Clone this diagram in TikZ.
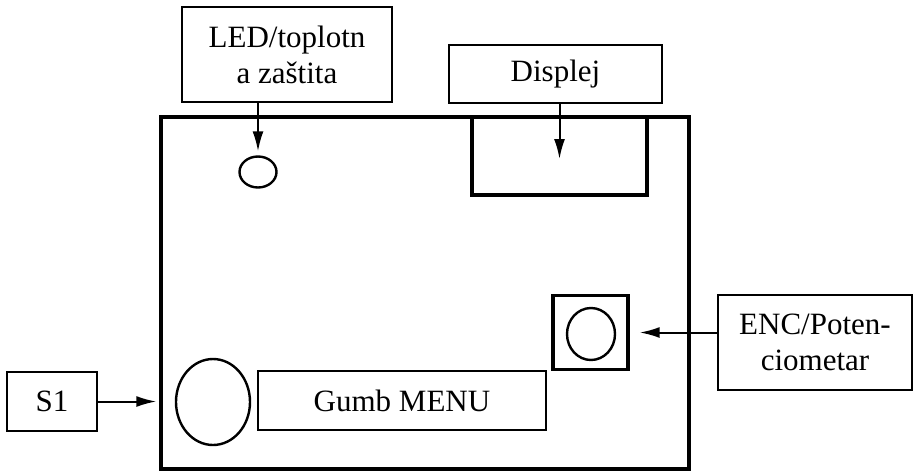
\documentclass[tikz,border=0pt]{standalone}
\usepackage{fontspec}
\setmainfont{Liberation Serif}
\usetikzlibrary{shapes.geometric,arrows.meta}
\begin{document}
\begin{tikzpicture}[x=1pt,y=-1pt,
  lbl/.style={draw,line width=1.6pt,rectangle,inner sep=0pt,align=center,font=\fontsize{31}{36}\selectfont},
  thick box/.style={draw,line width=3.4pt,rectangle,inner sep=0pt},
  oval/.style={draw,line width=2.4pt,ellipse,inner sep=0pt},
  arr/.style={line width=2pt,-{Latex[length=20pt,width=11pt]}}]
\useasboundingbox[fill=white] (0,0) rectangle (920,472);
% board
\node[thick box,minimum width=528pt,minimum height=352pt] (board) at (425,293) {};
% display
\node[thick box,minimum width=175pt,minimum height=78pt] (disp) at (559.5,156) {};
% labels
\node[lbl,minimum width=210pt,minimum height=95pt] (ledbox) at (287,54.5) {LED/toplotn\\a zaštita};
\node[lbl,minimum width=213pt,minimum height=58pt] (dispbox) at (555.5,74) {Displej};
\node[lbl,minimum width=194pt,minimum height=95pt] (encbox) at (815,342.5) {ENC/Poten-\\ciometar};
\node[lbl,minimum width=90pt,minimum height=59pt] (s1) at (52,401.5) {S1};
\node[lbl,minimum width=288pt,minimum height=59pt] (menu) at (402,400.5) {Gumb MENU};
% components
\node[oval,minimum width=37pt,minimum height=31pt] (led) at (258,172) {};
\node[oval,minimum width=74pt,minimum height=86pt] (btn) at (213,402) {};
\node[thick box,minimum width=75pt,minimum height=74pt] (enc) at (590.5,332.5) {};
\node[oval,minimum width=48pt,minimum height=52pt] (knob) at (591,334) {};
% arrows
\draw[arr,shorten >=4pt] (led |- ledbox.south) -- (led.north);
\draw[arr] (disp.center |- dispbox.south) -- ([yshift=-3pt]disp.center);
\draw[arr,shorten >=10pt] (enc.east -| encbox.west) -- (enc.east);
\draw[arr,shorten >=3pt] (s1.east) -- (s1.east -| board.west);
\end{tikzpicture}
\end{document}
